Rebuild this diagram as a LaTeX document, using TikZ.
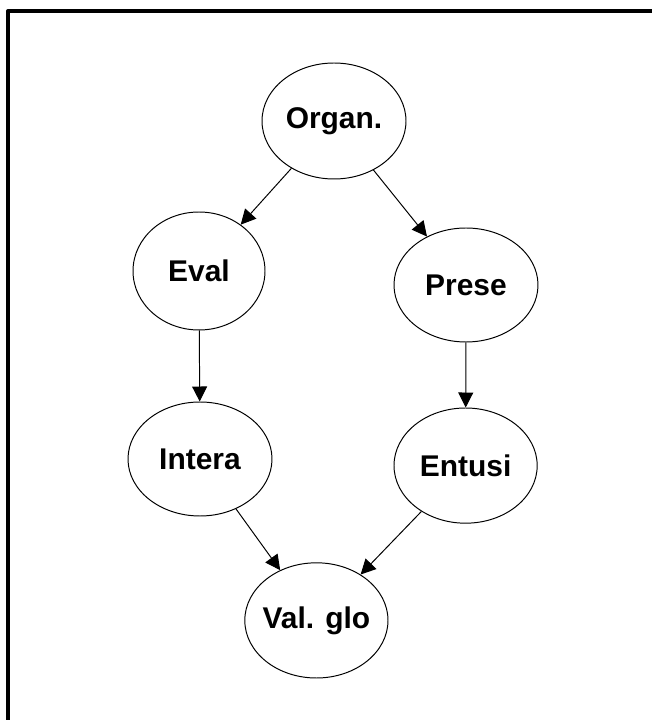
\documentclass[tikz,border=0pt]{standalone}
\usepackage{fontspec}
\setmainfont{Liberation Sans}
\usetikzlibrary{shapes.geometric,arrows.meta}
\begin{document}
\begin{tikzpicture}[line join=round, font=\fontsize{21.3}{25}\selectfont\bfseries, >={Triangle[length=0.375cm,width=0.375cm]}, line width=0.7pt]
	\tikzset{bubble/.style={draw, ellipse, inner sep=0pt, minimum width=3.58cm, minimum height=2.88cm}}
	\useasboundingbox (0,0) rectangle (16.3,18);
	\draw[line width=0.1cm] (0.2,0) |- (16.3,17.725);
	\node[bubble, minimum width=3.6cm, minimum height=2.9cm] (organ) at (8.35,14.975) {Organ.};
	\node[bubble, minimum width=3.3cm, minimum height=2.95cm] (eval) at (4.975,11.225) {Eval};
	\node[bubble, minimum width=3.6cm, minimum height=2.85cm] (prese) at (11.65,10.875) {Prese};
	\node[bubble, minimum width=3.6cm, minimum height=2.85cm] (intera) at (5.0,6.525) {Intera};
	\node[bubble] (entusi) at (11.64,6.36) {Entusi};
	\node[bubble, inner xsep=-4.5pt] (valglo) at (7.91,2.49) {Val. glo};
	\draw[->] (organ)--(eval);
	\draw[->] (organ)--(prese);
	\draw[->] (eval)--(intera);
	\draw[->] (prese)--(entusi);
	\draw[->] (intera)--(valglo);
	\draw[->] (entusi)--(valglo);
\end{tikzpicture}
\end{document}
